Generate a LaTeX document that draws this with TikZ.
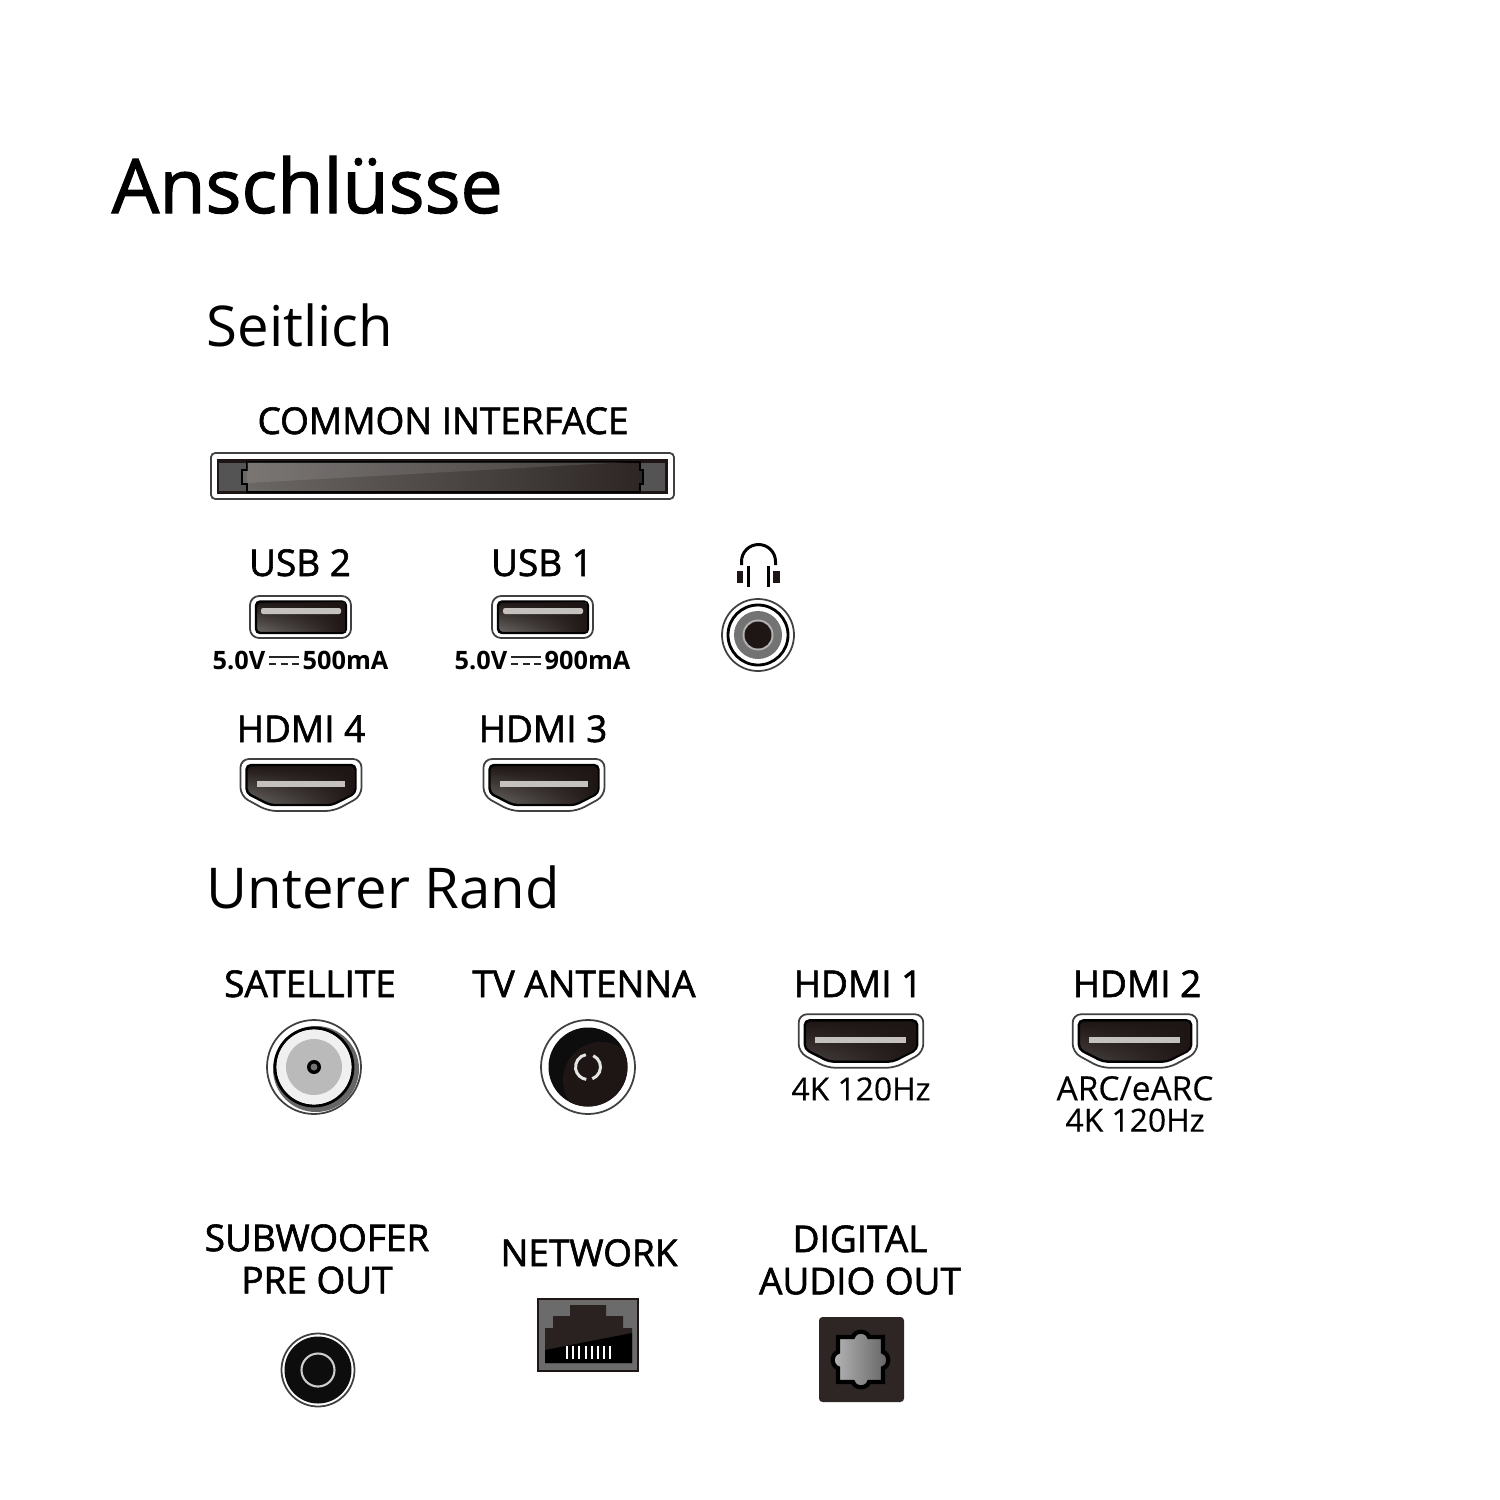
\documentclass[tikz,border=0pt]{standalone}
\usepackage{fontspec}
\setmainfont{Open Sans}
\newfontfamily\labelfont[FakeBold=1.6]{Open Sans}
\newfontfamily\titlefont[FakeBold=1.5]{Open Sans}
\newfontfamily\ratefont[FakeBold=0.3]{Open Sans}
\usepackage{xcolor}
\usepackage{tikz}
\usetikzlibrary{calc}
\usetikzlibrary{fadings}
\usetikzlibrary{positioning}
\definecolor{portdark}{HTML}{1E1614}
\definecolor{portmid}{HTML}{2D2624}
\definecolor{porthi}{HTML}{6C6866}
\definecolor{portbar}{HTML}{C4C1BE}
\tikzset{
  title/.style={font=\titlefont\fontsize{21.4}{24}\selectfont,anchor=base west,inner sep=0pt},
  section/.style={font=\fontsize{16}{20}\selectfont,anchor=base west,inner sep=0pt},
  portlabel/.style={font=\labelfont\fontsize{10.5}{12}\selectfont,anchor=base,inner sep=0pt},
  twolabel/.style={font=\labelfont\fontsize{10.5}{12}\selectfont,align=center,inner sep=0pt},
  ratelabel/.style={font=\ratefont\fontsize{9.05}{8.9}\selectfont,align=center,inner sep=0pt},
  powerlabel/.style={font=\bfseries\fontsize{7.2}{8}\selectfont,anchor=base west,inner sep=0pt},
  thinline/.style={draw=black!75,line width=0.5pt},
  darkring/.style={draw=black,line width=0.6pt},
}
\begin{document}
\begin{tikzpicture}[x=0.01cm,y=-0.01cm]
\useasboundingbox (0,0) rectangle (1500,1500);
\fill[white] (0,0) rectangle (1500,1500);

\node [title] (main) at (111,213) {Anschlüsse};
\node [section] (side) at (206,347) {Seitlich};
\node [section] (bottom) at (206,908) {Unterer Rand};

% common interface slot
\node [portlabel] (ci) at (443,434) {COMMON INTERFACE};
\draw [thinline,rounded corners=1.2pt,fill=white] (211,453) rectangle (674,499);
\fill [portdark] (217,459) rectangle (668,494);
\fill [black!67] (219,463) rectangle (246,491);
\fill [black!67] (641,463) rectangle (665,491);
\draw [black,line width=0.5pt,left color=porthi,right color=portmid]
  (247,462) -- (640,462) -- (640,470) -- (643,470) -- (643,484) -- (640,484) -- (640,492)
  -- (247,492) -- (247,484) -- (242,484) -- (242,470) -- (247,470) -- cycle;
\fill [white,opacity=0.1] (247,462) -- (630,462) -- (247,483) -- cycle;

% usb ports
\foreach \x/\n/\a in {0/2/500, 242/1/900}
{
  \begin{scope}[xshift=\x*0.01cm]
    \node [portlabel] (usb\n) at (300,576) {USB \n};
    \draw [thinline,rounded corners=2.6pt,fill=white] (250,596) rectangle (351,638);
    \draw [black,line width=0.7pt,rounded corners=1.2pt,top color=portdark,bottom color=porthi]
      (256,601.5) rectangle (346,633);
    \fill [portdark,path fading=west] (257,602) rectangle (345,632);
    \fill [portbar,rounded corners=0.6pt] (261,608) rectangle (341,614);
    \node [powerlabel] (volt\n) at (212,669) {5.0V};
    \node [powerlabel] (amp\n) at (302,669) {\a mA};
    \draw [black!85,line width=0.7pt] (269,657) -- (299,657);
    \foreach \d in {269,280.5,292}
      \draw [black!85,line width=0.7pt] (\d,664) -- ++(7,0);
  \end{scope}
}

% headphones
\draw [black,line width=0.85pt] (741.5,565) -- (741.5,561.5) arc (180:360:17 and 17) -- (775.5,565);
\fill [portdark] (737,571) rectangle (743,583);
\fill [portdark] (773,571) rectangle (780,583);
\draw [black,line width=0.85pt] (748.5,566) -- (748.5,587);
\draw [black,line width=0.85pt] (768.5,566) -- (768.5,587);
\draw [thinline,fill=white] (758,635) circle (36);
\draw [darkring,line width=0.8pt,fill=white] (758,635) circle (30);
\fill [black!55] (758,635) circle (24);
\fill [black!30] (758,635) circle (15.5);
\fill [portdark] (758,635) circle (13.5);

% hdmi ports
\foreach \x/\y/\s/\c/\n in {301/785/1/porthi/hdmifour, 544/785/1/porthi/hdmithree,
                            861/1041/1.03/portmid!60!porthi/hdmione, 1135/1041/1.03/portmid!60!porthi/hdmitwo}
{
  \begin{scope}[shift={(\x,\y)},scale=\s]
    \draw [thinline,fill=white,rounded corners=2.4pt]
      (-60.5,-26) -- (60.5,-26) -- (60.5,11) -- (33,26) -- (-33,26) -- (-60.5,11) -- cycle;
    \draw [black,line width=0.7pt,rounded corners=1.3pt,top color=portdark,bottom color=\c]
      (-54.5,-20) -- (54.5,-20) -- (54.5,8) -- (31,20) -- (-31,20) -- (-54.5,8) -- cycle;
    \fill [portdark,path fading=west,rounded corners=1.3pt]
      (-53.5,-19) -- (53.5,-19) -- (53.5,8) -- (31,19) -- (-31,19) -- (-53.5,8) -- cycle;
    \fill [portbar] (-44.5,-4) rectangle (44,1.5);
  \end{scope}
}
\node [portlabel] (hdmifourl) at (301,742) {HDMI 4};
\node [portlabel] (hdmithreel) at (543,742) {HDMI 3};
\node [portlabel] (hdmionel) at (858,997) {HDMI 1};
\node [portlabel] (hdmitwol) at (1137,997) {HDMI 2};
\node [ratelabel] (rateone) at (861,1089) {4K 120Hz};
\node [ratelabel] (ratetwo) at (1135,1104) {\fontsize{9.5}{8.9}\selectfont ARC/eARC\\4K 120Hz};

% satellite
\node [portlabel] (sat) at (310,997) {SATELLITE};
\draw [thinline,fill=white] (314,1067) circle (47);
\fill [black!60] (316,1069) circle (43);
\draw [darkring,line width=0.8pt,fill=white] (314,1067) circle (39);
\fill [black!6] (314,1067) circle (37);
\fill [black!27] (314,1067) circle (28);
\fill [black] (314,1067) circle (7);
\fill [black!55] (314,1067) circle (3.5);

% antenna
\node [portlabel] (ant) at (584,997) {TV ANTENNA};
\draw [thinline,fill=white] (588,1067) circle (47);
\fill [black!95] (588,1067) circle (39.5);
\begin{scope}
  \clip (588,1067) circle (39.5);
  \fill [portdark] (601,1080) circle (38);
\end{scope}
\draw [white!90!black,line width=0.85pt] (588,1067) ++(-65:12.5) arc (-65:70:12.5);
\draw [white!90!black,line width=0.85pt] (588,1067) ++(-100:12.5) arc (-100:-262:12.5);

% subwoofer
\node [twolabel] (sub) at (317,1259) {SUBWOOFER\\PRE OUT};
\draw [thinline,fill=white] (318,1370) circle (36.5);
\fill [black!95] (318,1370) circle (33.5);
\draw [black!20,line width=0.6pt] (318,1370) circle (16.5);

% network
\node [portlabel] (net) at (589,1266) {NETWORK};
\draw [portdark,line width=0.35pt,fill=black!58] (538,1299) rectangle (638,1371);
\fill [portmid!90!black] (545,1363) -- (545,1328) -- (553,1328) -- (553,1316) -- (570,1316) -- (570,1305)
  -- (606,1305) -- (606,1316) -- (623,1316) -- (623,1328) -- (632,1328) -- (632,1363) -- cycle;
\fill [black] (545,1363) -- (545,1350) -- (632,1333) -- (632,1363) -- cycle;
\foreach \p in {0,...,7}
  \fill [white] (566+\p*6.2,1346) rectangle ++(2,13);

% digital audio out
\node [twolabel] (spdif) at (860,1260) {DIGITAL\\AUDIO OUT};
\fill [portmid,rounded corners=1pt] (819,1317) rectangle (904,1402);
\draw [black,line width=1.2pt,left color=black!28,right color=black!62] (838,1337)
  -- (853,1337) .. controls (855,1330) and (867,1330) .. (869,1337)
  -- (883,1337) -- (883,1352) .. controls (890,1354) and (890,1366) .. (883,1368)
  -- (883,1382) -- (869,1382) .. controls (867,1389) and (855,1389) .. (853,1382)
  -- (838,1382) -- (838,1368) .. controls (831,1366) and (831,1354) .. (838,1352) -- cycle;
\end{tikzpicture}
\end{document}
